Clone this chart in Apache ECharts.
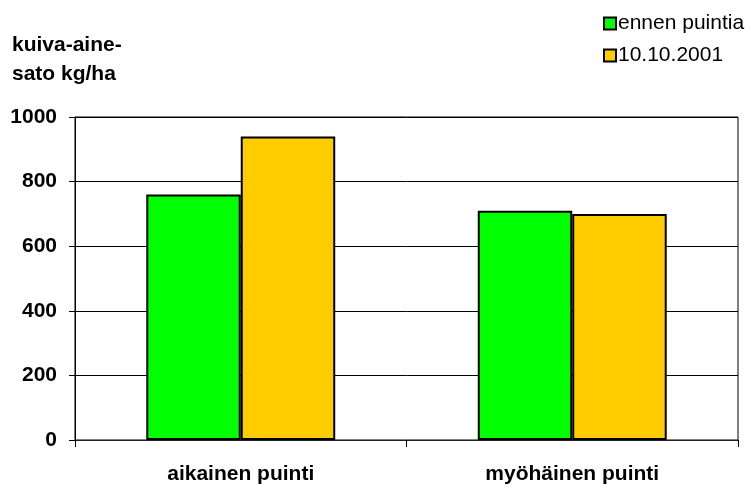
<!DOCTYPE html>
<html>
<head>
<meta charset="utf-8">
<script src="https://cdn.jsdelivr.net/npm/echarts@6/dist/echarts.min.js"></script>
<style>
  html, body { margin: 0; padding: 0; background: #fff; }
  #chart { width: 751px; height: 491px; }
</style>
</head>
<body>
<div id="chart"></div>
<script>
// Harvest categories and dry-matter yields (kg/ha)
const categories = ['aikainen puinti', 'myöhäinen puinti'];
const seriesNames = ['ennen puintia', '10.10.2001'];
const beforeHarvest = [760, 710];
const onOct10 = [940, 700];
const yTicks = [0, 200, 400, 600, 800, 1000];

const FONT = 'Liberation Sans, Arial, sans-serif';
const chart = echarts.init(document.getElementById('chart'), null, { renderer: 'canvas' });

chart.setOption({
  animation: false,
  backgroundColor: '#ffffff',
  title: {
    text: 'kuiva-aine-\nsato kg/ha',
    left: 7,
    top: 26,
    textStyle: { fontFamily: FONT, fontSize: 21, fontWeight: 'bold', color: '#000', lineHeight: 29 }
  },
  legend: {
    orient: 'vertical',
    left: 598,
    top: 8,
    itemWidth: 12,
    itemHeight: 12,
    itemGap: 11,
    icon: 'rect',
    textStyle: { fontFamily: FONT, fontSize: 21, color: '#000', padding: [0, 0, 0, -3] },
    data: seriesNames
  },
  grid: {
    left: 75, right: 13, top: 117, bottom: 51,
    show: true, borderColor: '#000', borderWidth: 1, backgroundColor: 'transparent'
  },
  xAxis: {
    type: 'category',
    data: categories,
    axisLine: { lineStyle: { color: '#222', width: 1 } },
    axisTick: { show: true, length: 7, alignWithLabel: false, lineStyle: { color: '#000' } },
    axisLabel: { fontFamily: FONT, fontSize: 21, fontWeight: 'bold', color: '#000', margin: 24 }
  },
  yAxis: {
    type: 'value',
    min: yTicks[0],
    max: yTicks[yTicks.length - 1],
    interval: 200,
    axisLine: { show: true, lineStyle: { color: '#000', width: 1 } },
    axisTick: { show: true, length: 6, lineStyle: { color: '#000' } },
    splitLine: { show: true, lineStyle: { color: '#000', width: 1 } },
    axisLabel: {
      fontFamily: FONT, fontSize: 21, fontWeight: 'bold', color: '#000', margin: 18,
      formatter: v => String(v)
    }
  },
  series: [
    {
      name: seriesNames[0],
      type: 'bar',
      data: beforeHarvest,
      barGap: '0%',
      barCategoryGap: '43%',
      itemStyle: { color: '#00ff00', borderColor: '#000', borderWidth: 2 }
    },
    {
      name: seriesNames[1],
      type: 'bar',
      data: onOct10,
      itemStyle: { color: '#ffcc00', borderColor: '#000', borderWidth: 2 }
    }
  ]
});
</script>
</body>
</html>
